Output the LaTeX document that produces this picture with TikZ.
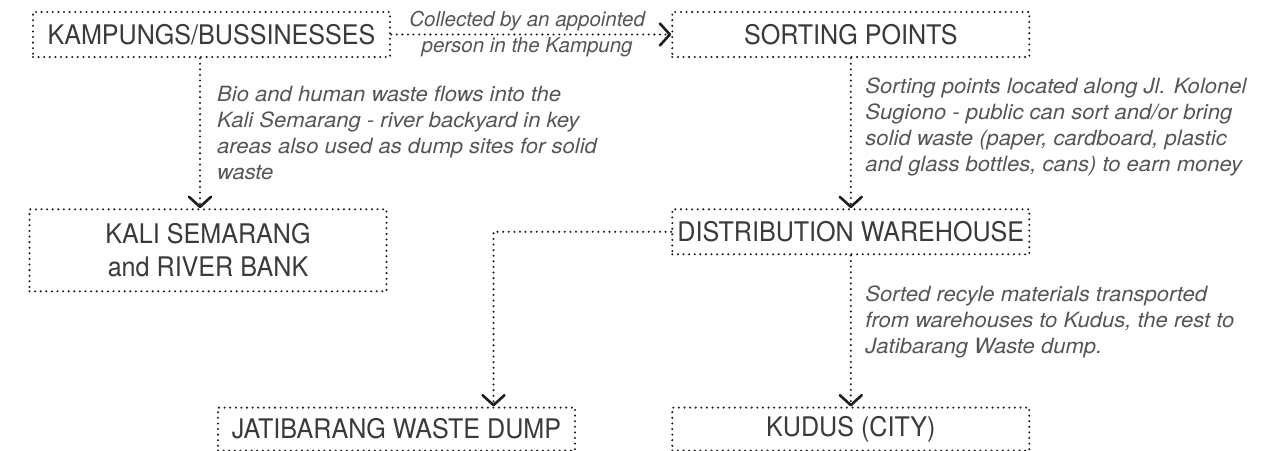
\documentclass[tikz,border=0pt]{standalone}
\usepackage{fontspec}
\setmainfont{TeX Gyre Heros}
\newfontfamily\boxfont[FakeStretch=0.93]{TeX Gyre Heros}
\newfontfamily\notefont[FakeStretch=1.05]{TeX Gyre Heros}
\newfontfamily\midfont[FakeStretch=1.0]{TeX Gyre Heros}
\usetikzlibrary{arrows.meta,positioning}
\definecolor{ink}{HTML}{1E1E1E}
\definecolor{boxtext}{HTML}{3A3A3A}
\definecolor{notegray}{HTML}{555555}

\begin{document}
\begin{tikzpicture}[x=1pt,y=-1pt,node distance=150pt and 280pt,
  place/.style={draw=ink,line width=2.3pt,dash pattern=on 0pt off 5.6pt,line cap=round,minimum width=357pt,minimum height=45pt,inner sep=0pt,align=center,text=boxtext,font=\boxfont\fontsize{27}{33}\selectfont},
  flow/.style={draw=ink,line width=2.3pt,dash pattern=on 0pt off 5.6pt,line cap=round,-{Straight Barb[length=10pt,width=22pt,line width=2.6pt,round]}},
  note/.style={inner sep=0pt,align=left,text=notegray,font=\notefont\itshape\fontsize{21}{26}\selectfont}]
\useasboundingbox (0,0) rectangle (1271,450);
\node[place] (kamp) at (211.5,34.5) {KAMPUNGS/BUSSINESSES};
\node[place,right=of kamp] (sort) {SORTING POINTS};
\node[place,below=of kamp,xshift=-3.5pt,minimum height=82pt] (kali) {KALI SEMARANG\\and RIVER BANK};
\node[place,below=of sort] (dist) {DISTRIBUTION WAREHOUSE};
\node[place,below=151pt of dist,minimum height=43pt] (kudus) {KUDUS (CITY)};
\node[place,left=95pt of kudus,minimum height=43pt] (jati) {JATIBARANG WASTE DUMP};
\draw[flow] (kamp) -- node[note,align=center,xshift=-4pt,font=\midfont\itshape\fontsize{20.5}{26}\selectfont]{Collected by an appointed\\person in the Kampung} (sort);
\draw[flow] ([xshift=-11.5pt]kamp.south) -- ([xshift=-11.5pt]kamp.south |- kali.north)
  node[note,midway,right=16pt]{Bio and human waste flows into the\\Kali Semarang - river backyard in key\\areas also used as dump sites for solid\\waste};
\draw[flow] (sort) -- node[note,pos=0.46,right=13.5pt]{Sorting points located along Jl. Kolonel\\Sugiono - public can sort and/or bring\\solid waste (paper, cardboard, plastic\\and glass bottles, cans) to earn money} (dist);
\draw[flow] (dist) -- node[note,pos=0.44,right=13.5pt]{Sorted recyle materials transported\\from warehouses to Kudus, the rest to\\Jatibarang Waste dump.} (kudus);
\draw[flow] (dist.west) -| ([xshift=97pt]jati.north);
\end{tikzpicture}
\end{document}
